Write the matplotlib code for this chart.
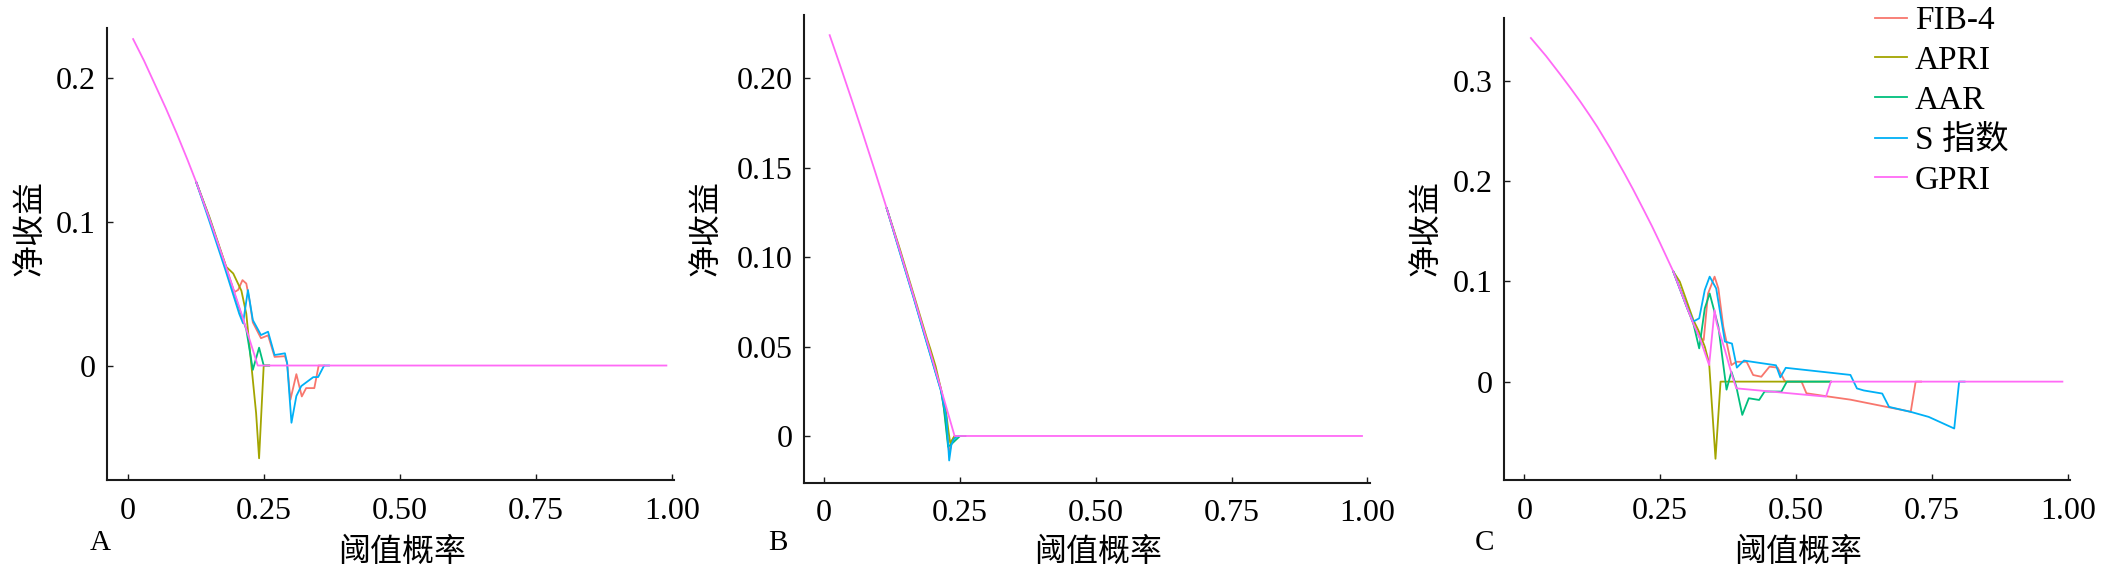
import matplotlib
matplotlib.use('Agg')
import matplotlib.pyplot as plt

plt.rcParams['font.family'] = ['Liberation Serif', 'Noto Sans CJK SC']

# series names and colours
names = ['FIB-4', 'APRI', 'AAR', 'S 指数', 'GPRI']
colors = ['#F8766D', '#A3A500', '#00BF7D', '#00B0F6', '#FF6AF6']

x_ticks = [0, 0.25, 0.50, 0.75, 1.00]
x_labels = ['0', '0.25', '0.50', '0.75', '1.00']

# ---- panel A ----  (other models coincide with GPRI before their first point)
A_gpri_x = [0.01, 0.03, 0.05, 0.07, 0.09, 0.11, 0.126, 0.15, 0.18, 0.21, 0.239, 0.99]
A_gpri_y = [0.227, 0.212, 0.1955, 0.179, 0.1615, 0.143, 0.1275, 0.1025, 0.0695, 0.035, 0.0, 0.0]
A_fib_x = [0.126, 0.15, 0.18, 0.196, 0.203, 0.211, 0.218, 0.224, 0.23, 0.245, 0.258, 0.27, 0.289, 0.293, 0.299, 0.310, 0.320, 0.328, 0.343, 0.351, 0.36]
A_fib_y = [0.1275, 0.1025, 0.0695, 0.051, 0.0526, 0.0594, 0.057, 0.045, 0.030, 0.019, 0.021, 0.006, 0.0065, 0.0017, -0.0238, -0.006, -0.0215, -0.0157, -0.0157, 0.0, 0.0]
A_apri_x = [0.126, 0.15, 0.181, 0.194, 0.209, 0.218, 0.224, 0.230, 0.236, 0.2415, 0.246, 0.250, 0.26]
A_apri_y = [0.1275, 0.1035, 0.0687, 0.064, 0.052, 0.036, 0.013, -0.010, -0.033, -0.0645, -0.03, 0.0, 0.0]
A_aar_x = [0.126, 0.15, 0.18, 0.21, 0.218, 0.224, 0.230, 0.2415, 0.250, 0.26]
A_aar_y = [0.1275, 0.1025, 0.0685, 0.034, 0.025, 0.011, -0.003, 0.0124, 0.0, 0.0]
A_s_x = [0.126, 0.15, 0.18, 0.205, 0.212, 0.221, 0.230, 0.245, 0.258, 0.270, 0.289, 0.293, 0.301, 0.310, 0.319, 0.341, 0.35, 0.361, 0.37]
A_s_y = [0.1275, 0.1005, 0.066, 0.036, 0.0294, 0.0525, 0.0316, 0.0212, 0.0235, 0.0073, 0.0085, 0.0017, -0.0398, -0.0212, -0.0143, -0.0081, -0.008, 0.0, 0.0]

# ---- panel B ----
B_gpri_x = [0.01, 0.03, 0.05, 0.07, 0.094, 0.115, 0.139, 0.165, 0.189, 0.215, 0.240, 0.99]
B_gpri_y = [0.224, 0.2064, 0.1884, 0.170, 0.1474, 0.1272, 0.1037, 0.0777, 0.0532, 0.0262, 0.0, 0.0]
B_fib_x = [0.115, 0.139, 0.165, 0.189, 0.215, 0.222, 0.230, 0.236, 0.240, 0.25]
B_fib_y = [0.1272, 0.1037, 0.0777, 0.0532, 0.0262, 0.012, -0.0096, -0.002, 0.0, 0.0]
B_apri_x = [0.115, 0.139, 0.165, 0.189, 0.195, 0.205, 0.2235, 0.229, 0.232, 0.240, 0.25]
B_apri_y = [0.1272, 0.1047, 0.0787, 0.0545, 0.049, 0.039, 0.015, 0.002, -0.004, 0.0, 0.0]
B_aar_x = [0.115, 0.139, 0.165, 0.189, 0.215, 0.220, 0.228, 0.236, 0.250, 0.26]
B_aar_y = [0.1272, 0.1032, 0.0772, 0.0522, 0.0255, 0.016, -0.006, -0.004, 0.0, 0.0]
B_s_x = [0.115, 0.139, 0.165, 0.189, 0.215, 0.225, 0.230, 0.234, 0.238, 0.245, 0.25]
B_s_y = [0.1272, 0.1027, 0.0767, 0.0517, 0.025, 0.010, -0.0137, -0.005, -0.002, 0.0, 0.0]

# ---- panel C ----
C_gpri_x = [0.012, 0.04, 0.067, 0.085, 0.103, 0.12, 0.134, 0.158, 0.185, 0.20, 0.22, 0.235, 0.25, 0.262, 0.274,
            0.30, 0.311, 0.323, 0.340, 0.350, 0.354, 0.369, 0.381, 0.390, 0.555, 0.564, 0.99]
C_gpri_y = [0.343, 0.325, 0.306, 0.293, 0.2795, 0.266, 0.2545, 0.233, 0.207, 0.192, 0.171, 0.155, 0.138, 0.124, 0.110,
            0.073, 0.058, 0.0432, 0.0165, 0.0715, 0.058, 0.0316, 0.0083, -0.0067, -0.015, 0.0, 0.0]
C_fib_x = [0.274, 0.30, 0.311, 0.323, 0.330, 0.338, 0.350, 0.357, 0.366, 0.381, 0.390, 0.409, 0.421, 0.436, 0.451, 0.466, 0.478, 0.481,
           0.510, 0.519, 0.561, 0.60, 0.6645, 0.711, 0.72, 0.73]
C_fib_y = [0.110, 0.073, 0.058, 0.0432, 0.0415, 0.088, 0.1048, 0.093, 0.055, 0.0165, 0.0198, 0.0198, 0.0066, 0.0049, 0.0149, 0.014, 0.0016, 0.0,
           0.0, -0.0116, -0.015, -0.018, -0.025, -0.030, 0.0, 0.0]
C_apri_x = [0.274, 0.286, 0.311, 0.320, 0.332, 0.340, 0.3517, 0.361, 0.564]
C_apri_y = [0.110, 0.0998, 0.0615, 0.0515, 0.0349, 0.0183, -0.077, 0.0, 0.0]
C_aar_x = [0.274, 0.30, 0.311, 0.3217, 0.332, 0.341, 0.357, 0.372, 0.381, 0.390, 0.401, 0.413, 0.432, 0.442, 0.473, 0.483, 0.564]
C_aar_y = [0.110, 0.073, 0.058, 0.0332, 0.0732, 0.088, 0.0549, -0.008, 0.0099, -0.005, -0.0332, -0.0166, -0.0183, -0.0099, -0.0099, 0.0, 0.0]
C_s_x = [0.274, 0.30, 0.311, 0.3217, 0.332, 0.341, 0.353, 0.369, 0.382, 0.391, 0.404, 0.463, 0.471, 0.481, 0.600, 0.612, 0.6245, 0.6585,
         0.671, 0.713, 0.744, 0.791, 0.800, 0.81]
C_s_y = [0.110, 0.073, 0.060, 0.0632, 0.0915, 0.1048, 0.093, 0.040, 0.038, 0.014, 0.021, 0.0163, 0.0043, 0.0138, 0.0067, -0.0068, -0.0088, -0.0119,
         -0.0252, -0.0305, -0.0352, -0.0468, 0.0, 0.0]

panels = [
    dict(series=[(A_fib_x, A_fib_y), (A_apri_x, A_apri_y), (A_aar_x, A_aar_y), (A_s_x, A_s_y), (A_gpri_x, A_gpri_y)],
         yticks=[0, 0.1, 0.2], ylabels=['0', '0.1', '0.2'], ylim=(-0.0796, 0.2347),
         rect=[107, 28, 674, 480], letter='A', lx=100, ylx=45),
    dict(series=[(B_fib_x, B_fib_y), (B_apri_x, B_apri_y), (B_aar_x, B_aar_y), (B_s_x, B_s_y), (B_gpri_x, B_gpri_y)],
         yticks=[0, 0.05, 0.10, 0.15, 0.20], ylabels=['0', '0.05', '0.10', '0.15', '0.20'], ylim=(-0.026, 0.2355),
         rect=[803.6, 14.6, 1369.6, 482.5], letter='B', lx=778, ylx=721),
    dict(series=[(C_fib_x, C_fib_y), (C_apri_x, C_apri_y), (C_aar_x, C_aar_y), (C_s_x, C_s_y), (C_gpri_x, C_gpri_y)],
         yticks=[0, 0.1, 0.2, 0.3], ylabels=['0', '0.1', '0.2', '0.3'], ylim=(-0.0982, 0.3635),
         rect=[1503.7, 17.5, 2070, 480], letter='C', lx=1485, ylx=1441),
]

W, H = 2104, 573
fig = plt.figure(figsize=(W / 100, H / 100), dpi=100)

lines = []
for p in panels:
    x0, y0, x1, y1 = p['rect']
    w, h = x1 - x0, y1 - y0
    ax = fig.add_axes([x0 / W, 1 - y1 / H, w / W, h / H])
    for (sx, sy), c, n in zip(p['series'], colors, names):
        ln, = ax.plot(sx, sy, color=c, lw=1.3, label=n)
        if p['letter'] == 'C':
            lines.append(ln)
    ax.set_xlim(-0.038, 1.004)
    ax.set_ylim(*p['ylim'])
    ax.set_xticks(x_ticks)
    ax.set_xticklabels(x_labels)
    ax.set_yticks(p['yticks'])
    ax.set_yticklabels(p['ylabels'])
    for s in ['top', 'right']:
        ax.spines[s].set_visible(False)
    for s in ['left', 'bottom']:
        ax.spines[s].set_linewidth(1.5)
        ax.spines[s].set_color('#1a1a1a')
    ax.tick_params(direction='in', length=4, width=1, colors='#1a1a1a', labelcolor='black', labelsize=23)
    ax.tick_params(axis='x', pad=12)
    ax.tick_params(axis='y', pad=8)
    ax.set_xlabel('阈值概率', fontsize=23)
    ax.set_ylabel('净收益', fontsize=23)
    ax.xaxis.set_label_coords(0.52, (y1 - 537) / h)
    ax.yaxis.set_label_coords((p['ylx'] - x0) / w, (y1 - 228) / h)
    fig.text(p['lx'] / W, 1 - 543 / H, p['letter'], fontsize=21, ha='center', va='center')

fig.legend(handles=lines, loc='upper left', bbox_to_anchor=(1875 / W, 0.99), frameon=False,
           fontsize=24, handlelength=0.95, handletextpad=0.25, labelspacing=0.28,
           borderpad=0.0, borderaxespad=0.0)

fig.savefig('out.png', dpi=100)
